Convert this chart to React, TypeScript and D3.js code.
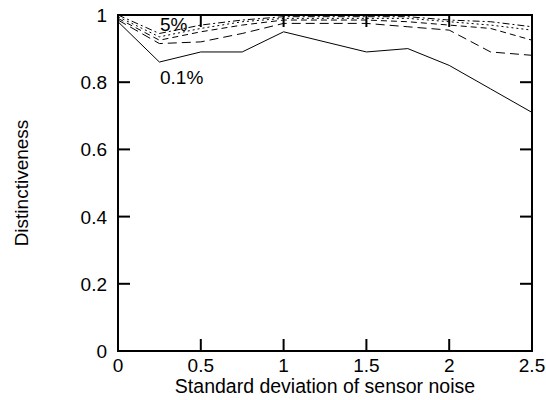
import React, { useEffect, useRef } from 'react';
import * as d3 from 'd3';

// noise levels on the x axis
const noiseLevels = [0, 0.25, 0.5, 0.75, 1, 1.25, 1.5, 1.75, 2, 2.25, 2.5];

// distinctiveness per threshold
const series01 = [0.98, 0.86, 0.89, 0.89, 0.95, 0.92, 0.89, 0.9, 0.85, 0.78, 0.71];
const series05 = [0.985, 0.915, 0.92, 0.945, 0.975, 0.975, 0.975, 0.965, 0.955, 0.89, 0.88];
const series1 = [0.99, 0.925, 0.95, 0.97, 0.985, 0.985, 0.985, 0.98, 0.97, 0.96, 0.925];
const series2 = [0.995, 0.935, 0.96, 0.98, 0.99, 0.99, 0.99, 0.99, 0.98, 0.97, 0.955];
const series5 = [1.0, 0.945, 0.97, 0.985, 0.995, 0.995, 0.995, 0.995, 0.985, 0.98, 0.965];

const xTicks = [0, 0.5, 1, 1.5, 2, 2.5];
const yTicks = [0, 0.2, 0.4, 0.6, 0.8, 1];

const App = () => {
  const svgRef = useRef<SVGSVGElement>(null);

  useEffect(() => {
    const svg = d3.select(svgRef.current);
    svg.selectAll('*').remove();

    const width = 546;
    const height = 400;
    const margin = { top: 15, right: 14, bottom: 49, left: 118 };
    const font = 'Liberation Sans, Arial, Helvetica, sans-serif';
    const fs = 19;

    const x = d3.scaleLinear().domain([0, 2.5]).range([margin.left, width - margin.right]);
    const y = d3.scaleLinear().domain([0, 1]).range([height - margin.bottom, margin.top]);

    const lines = [
      { values: series01, dash: null },
      { values: series05, dash: '9,5' },
      { values: series1, dash: '6,4' },
      { values: series2, dash: '2,3' },
      { values: series5, dash: '7,3,2,3' },
    ];

    const line = d3.line<number>()
      .x((_, i) => x(noiseLevels[i]))
      .y(d => y(d));

    lines.forEach(s => {
      svg.append('path')
        .attr('d', line(s.values))
        .attr('fill', 'none')
        .attr('stroke', '#000')
        .attr('stroke-width', 1)
        .attr('stroke-dasharray', s.dash);
    });

    // ticks on all four sides, pointing inward
    const tickLen = 12;
    const ticks = svg.append('g').attr('stroke', '#000').attr('stroke-width', 2);
    xTicks.forEach(t => {
      ticks.append('line').attr('x1', x(t)).attr('x2', x(t))
        .attr('y1', y(0)).attr('y2', y(0) - tickLen);
      ticks.append('line').attr('x1', x(t)).attr('x2', x(t))
        .attr('y1', y(1)).attr('y2', y(1) + tickLen);
    });
    yTicks.forEach(t => {
      ticks.append('line').attr('x1', x(0)).attr('x2', x(0) + tickLen)
        .attr('y1', y(t)).attr('y2', y(t));
      ticks.append('line').attr('x1', x(2.5)).attr('x2', x(2.5) - tickLen)
        .attr('y1', y(t)).attr('y2', y(t));
    });

    // frame
    svg.append('rect')
      .attr('x', x(0)).attr('y', y(1))
      .attr('width', x(2.5) - x(0)).attr('height', y(0) - y(1))
      .attr('fill', 'none').attr('stroke', '#000').attr('stroke-width', 2);

    const text = svg.append('g')
      .attr('font-family', font)
      .attr('font-size', fs)
      .attr('fill', '#000');

    xTicks.forEach(t => {
      text.append('text')
        .attr('x', x(t)).attr('y', y(0) + 21)
        .attr('text-anchor', 'middle')
        .text(String(t));
    });
    yTicks.forEach(t => {
      text.append('text')
        .attr('x', x(0) - 11).attr('y', y(t) + 7)
        .attr('text-anchor', 'end')
        .text(String(t));
    });

    text.append('text')
      .attr('x', (x(0) + x(2.5)) / 2).attr('y', height - 7)
      .attr('text-anchor', 'middle')
      .attr('font-size', 19.5)
      .text('Standard deviation of sensor noise');

    text.append('text')
      .attr('transform', `translate(28,${(y(0) + y(1)) / 2}) rotate(-90)`)
      .attr('text-anchor', 'middle')
      .text('Distinctiveness');

    // series labels
    text.append('text').attr('x', 160).attr('y', 30.5).text('5%');
    text.append('text').attr('x', 160).attr('y', 84).text('0.1%');
  }, []);

  return (
    <svg ref={svgRef} width={546} height={400}
      style={{ position: 'absolute', left: 0, top: 0, background: '#fff' }} />
  );
};

export default App;
